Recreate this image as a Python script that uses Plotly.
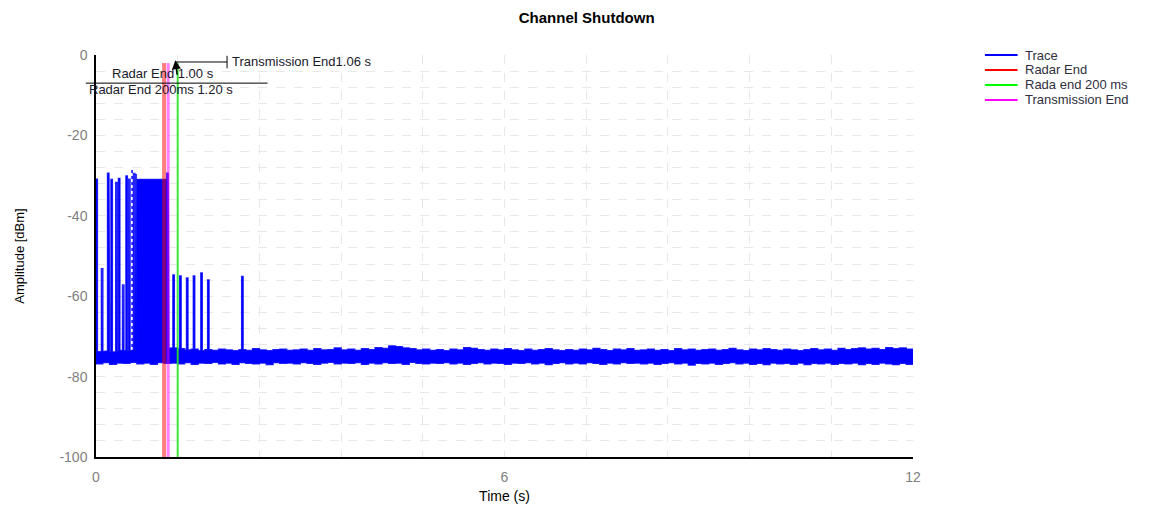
import plotly.graph_objects as go

# ---- data ------------------------------------------------------------------
# noise floor envelope, one value per 0.1 s from 0.0 to 12.0 s (dBm)
floor_top = [
    -73.8, -73.6, -73.9, -73.5, -73.7, -73.4, -73.8, -73.6, -73.5, -73.4,
    -73.0, -72.9, -73.1, -73.4, -73.2, -73.6, -73.3, -73.5, -73.2, -73.4,
    -73.6, -73.3, -73.5, -73.1, -73.4, -73.6, -73.3, -73.2, -73.5, -73.4,
    -73.2, -73.5, -73.1, -73.4, -73.3, -72.9, -73.4, -73.2, -73.5, -73.1,
    -73.3, -72.8, -73.0, -72.4, -72.6, -72.9, -73.1, -73.4, -73.2, -73.5,
    -73.3, -73.6, -73.2, -73.4, -72.8, -73.0, -73.3, -73.5, -73.2, -73.4,
    -73.1, -73.4, -73.6, -73.2, -73.5, -73.3, -73.1, -73.4, -73.6, -73.3,
    -73.5, -73.2, -73.4, -73.0, -73.3, -73.6, -73.2, -73.4, -73.1, -73.5,
    -73.4, -73.2, -73.5, -73.3, -73.6, -73.1, -73.4, -73.2, -73.5, -73.3,
    -73.2, -73.5, -73.3, -73.0, -73.4, -73.6, -73.2, -73.4, -73.1, -73.3,
    -73.5, -73.2, -73.4, -73.6, -73.3, -73.1, -73.4, -73.2, -73.5, -73.0,
    -73.3, -73.1, -72.9, -73.2, -73.0, -73.3, -72.8, -73.1, -72.9, -73.2, -73.0,
]
floor_bottom = [
    -76.8, -76.5, -76.9, -76.6, -76.7, -76.4, -76.8, -76.6, -76.9, -76.5,
    -76.7, -76.6, -76.8, -76.5, -76.9, -76.6, -76.7, -76.4, -76.8, -76.6,
    -76.9, -76.5, -76.7, -76.8, -76.6, -77.0, -76.5, -76.7, -76.6, -76.8,
    -76.5, -76.7, -76.9, -76.6, -76.4, -76.8, -76.6, -76.7, -76.5, -76.9,
    -76.6, -76.8, -76.5, -76.7, -76.6, -76.9, -76.4, -76.7, -76.8, -76.6,
    -76.7, -76.5, -76.8, -76.6, -76.9, -76.7, -76.5, -76.8, -76.6, -76.7,
    -76.9, -76.6, -76.7, -76.5, -76.8, -76.6, -77.0, -76.7, -76.5, -76.8,
    -76.6, -76.8, -76.5, -76.7, -76.9, -76.6, -76.8, -76.5, -76.7, -76.6,
    -76.8, -76.6, -76.9, -76.7, -76.5, -76.8, -76.6, -77.1, -76.7, -76.8,
    -76.6, -76.9, -76.7, -76.5, -76.8, -76.6, -76.9, -76.7, -77.0, -76.6,
    -76.8, -76.7, -76.9, -76.6, -77.0, -76.7, -76.8, -76.6, -76.9, -76.7,
    -76.8, -76.6, -77.0, -76.7, -76.9, -76.6, -76.8, -77.0, -76.7, -76.9, -76.8,
]
floor_step = 0.1

# radar pulses (time s, peak dBm)
pulse_t = [0.00, 0.08, 0.17, 0.22, 0.29, 0.33, 0.39, 0.44, 0.48, 0.55, 0.57,
           1.04, 1.13, 1.23, 1.33, 1.43, 1.54, 1.64, 2.14]
pulse_top = [-30.9, -53.0, -29.4, -31.0, -31.5, -30.7, -57.0, -30.1, -30.7, -29.3, -29.6,
             -29.4, -54.7, -55.0, -55.5, -55.0, -54.2, -56.0, -55.1]

# continuous burst block
burst_start, burst_end, burst_level = 0.60, 1.07, -31.0
# dotted pulse
dotted_t, dotted_top, dotted_bottom = 0.53, -28.6, -76.5

# markers
marker_names = ['Radar End', 'Rada end 200 ms', 'Transmission End']
marker_t = [1.00, 1.20, 1.06]
marker_colors = ['rgba(255,0,0,0.5)', 'rgba(40,230,40,0.9)', 'rgba(255,0,255,0.5)']
marker_widths = [4, 2, 3]
legend_names = ['Trace', 'Radar End', 'Rada end 200 ms', 'Transmission End']
legend_colors = ['#0000ff', '#ff0000', '#00ff00', '#ff00ff']

y_ticks = [0, -20, -40, -60, -80, -100]
x_ticks = [0, 6, 12]

# ---- build trace outline ----------------------------------------------------
n = len(floor_top)
floor_t = [round(i * floor_step, 2) for i in range(n)]


def inside_burst(x):
    return burst_start < x < burst_end


upper = []
for i, t in enumerate(floor_t):
    t_end = min(round(t + floor_step, 2), floor_t[-1])
    for x in (t, t_end):
        if not inside_burst(x):
            upper.append((x, floor_top[i]))
i0 = int(round(burst_start / floor_step))
i1 = min(int(burst_end / floor_step), n - 1)
upper += [(burst_start, floor_top[i0]), (burst_start, burst_level),
          (burst_end, burst_level), (burst_end, floor_top[i1])]
spike_w = 0.02
for t, top in zip(pulse_t, pulse_top):
    if inside_burst(t):
        base = burst_level
    else:
        base = floor_top[min(int(t / floor_step + 1e-9), n - 1)]
    upper += [(t, base), (t, top), (t + spike_w, top), (t + spike_w, base)]
upper.sort(key=lambda p: p[0])

lower = []
for i, t in enumerate(floor_t):
    t_end = min(round(t + floor_step, 2), floor_t[-1])
    lower.append((t, floor_bottom[i]))
    lower.append((t_end, floor_bottom[i]))
lower = lower[::-1]

outline = upper + lower + [upper[0]]

fig = go.Figure()
fig.add_trace(go.Scatter(
    x=[p[0] for p in outline], y=[p[1] for p in outline],
    mode='lines', fill='toself', fillcolor='#0000ff',
    line=dict(color='rgba(0,0,255,0.85)', width=1.5), showlegend=False, hoverinfo='skip'))
fig.add_trace(go.Scatter(
    x=[dotted_t, dotted_t], y=[dotted_top, dotted_bottom], mode='lines',
    line=dict(color='#0000ff', width=1.5, dash='dot'), showlegend=False))

for name, t, c, w in zip(marker_names, marker_t, marker_colors, marker_widths):
    fig.add_trace(go.Scatter(x=[t, t], y=[-2, -100], mode='lines',
                             line=dict(color=c, width=w), showlegend=False, name=name))

txt_font = dict(family='Liberation Sans, Arial', size=13, color='#1a1a2a')
fig.add_annotation(x=1.97, y=-1.74, text='Transmission End1.06 s', showarrow=False,
                   xanchor='left', yanchor='middle', font=txt_font)
fig.add_annotation(x=0.984, y=-4.5, text='Radar End 1.00 s', showarrow=False,
                   xanchor='center', yanchor='middle', font=txt_font)
fig.add_annotation(x=-0.0105, xref='paper', y=-8.5, text='Radar End 200ms 1.20 s',
                   showarrow=False, xanchor='left', yanchor='middle', font=txt_font)
fig.add_annotation(x=1.165, y=-1.3, ax=2, ay=16, showarrow=True, arrowhead=2,
                   arrowsize=1.2, arrowwidth=1.5, arrowcolor='black', text='')
fig.add_shape(type='line', x0=1.17, x1=1.925, y0=-1.74, y1=-1.74,
              line=dict(color='black', width=1))
fig.add_shape(type='line', x0=1.925, x1=1.925, y0=-0.2, y1=-3.3,
              line=dict(color='black', width=1))
fig.add_shape(type='line', xref='paper', x0=-0.0125, x1=0.21, y0=-7.0, y1=-7.0,
              line=dict(color='black', width=1))

# legend drawn in paper space so the row spacing matches the original
leg_font = dict(family='Liberation Sans, Arial', size=13, color='#303040')
for k, (name, c) in enumerate(zip(legend_names, legend_colors)):
    yk = 1.0 - k * 0.0373
    fig.add_shape(type='line', xref='paper', yref='paper', x0=1.088, x1=1.128,
                  y0=yk, y1=yk, line=dict(color=c, width=2))
    fig.add_annotation(xref='paper', yref='paper', x=1.135, y=yk, text=name,
                       showarrow=False, xanchor='left', yanchor='middle', font=leg_font)

grid = dict(gridcolor='#e8e8e8', griddash='dash', gridwidth=1)
fig.update_layout(
    width=1164, height=511,
    margin=dict(l=96, r=251, t=55, b=54, autoexpand=False),
    paper_bgcolor='white', plot_bgcolor='white',
    showlegend=False,
    title=dict(text='<b>Channel Shutdown</b>', x=0.504, xref='container', xanchor='center',
               y=0.965, yref='container', yanchor='middle',
               font=dict(family='Liberation Sans, Arial', size=15, color='black')),
    xaxis=dict(range=[0, 12], tickvals=x_ticks, ticktext=[str(v) for v in x_ticks],
               showline=True, linecolor='black', linewidth=1.5, automargin=False,
               zeroline=False, ticks='', ticklabelstandoff=6,
               tickfont=dict(family='Liberation Sans, Arial', size=14, color='#808080'),
               title=dict(text='Time (s)', standoff=8,
                          font=dict(family='Liberation Sans Narrow, Liberation Sans', size=14, color='black')),
               minor=dict(dtick=1.2, showgrid=True, **grid), **grid),
    yaxis=dict(range=[-100, 0], tickvals=y_ticks, ticktext=[str(v) for v in y_ticks],
               showline=True, linecolor='black', linewidth=1.5, automargin=False,
               zeroline=False, ticks='', ticklabelstandoff=4,
               tickfont=dict(family='Liberation Sans, Arial', size=14, color='#808080'),
               title=dict(text='Amplitude [dBm]', standoff=32,
                          font=dict(family='Liberation Sans Narrow, Liberation Sans', size=13, color='black')),
               minor=dict(dtick=4, showgrid=True, **grid), **grid),
)

fig.write_html("out.html", config={'displayModeBar': False},
               post_script="document.body.style.margin='0';")
